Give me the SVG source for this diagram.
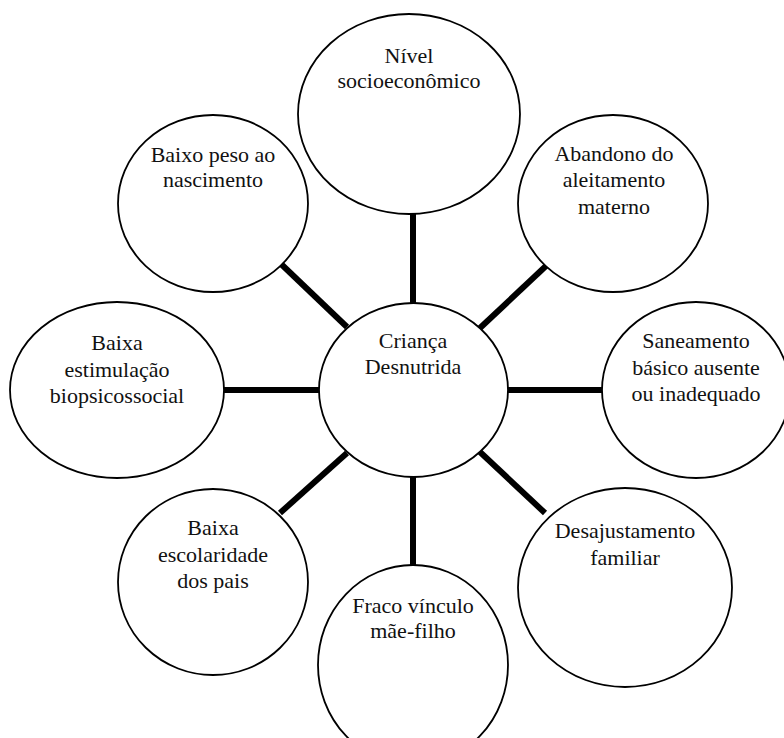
<svg xmlns="http://www.w3.org/2000/svg" width="784" height="738" viewBox="0 0 784 738">
<style>
.n{fill:#fff;stroke:#000;stroke-width:1.8}
.t{font-family:"Liberation Serif","Times New Roman",serif;font-size:22px;fill:#111;text-anchor:middle}
.c{stroke:#000;stroke-width:6;fill:none}
</style>
<rect width="784" height="738" fill="#fff"/>
<g id="connectors">
<line class="c" x1="413" y1="214" x2="413" y2="303"/>
<line class="c" x1="413" y1="477" x2="413" y2="565"/>
<line class="c" x1="224" y1="390" x2="319" y2="390"/>
<line class="c" x1="508" y1="390" x2="602" y2="390"/>
<line class="c" x1="280" y1="263" x2="347" y2="327"/>
<line class="c" x1="547" y1="265" x2="480" y2="328"/>
<line class="c" x1="280" y1="513" x2="347" y2="453"/>
<line class="c" x1="480" y1="452" x2="545" y2="513"/>
</g>
<g id="center">
<ellipse class="n" cx="413.5" cy="390" rx="94.5" ry="87"/>
<text class="t" x="413" y="348">Criança</text>
<text class="t" x="413" y="374">Desnutrida</text>
</g>
<g id="nivel">
<ellipse class="n" cx="409" cy="114" rx="111" ry="100"/>
<text class="t" x="409" y="63">Nível</text>
<text class="t" x="409" y="88">socioeconômico</text>
</g>
<g id="abandono">
<ellipse class="n" cx="613" cy="203.5" rx="95" ry="88.5"/>
<text class="t" x="614" y="161">Abandono do</text>
<text class="t" x="614" y="187">aleitamento</text>
<text class="t" x="614" y="214">materno</text>
</g>
<g id="saneamento">
<ellipse class="n" cx="696" cy="390" rx="94" ry="88"/>
<text class="t" x="696" y="348">Saneamento</text>
<text class="t" x="696" y="375">básico ausente</text>
<text class="t" x="696" y="401">ou inadequado</text>
</g>
<g id="desajustamento">
<ellipse class="n" cx="625" cy="587.5" rx="107" ry="99.5"/>
<text class="t" x="625" y="538">Desajustamento</text>
<text class="t" x="625" y="565">familiar</text>
</g>
<g id="fraco">
<ellipse class="n" cx="413" cy="665" rx="95" ry="100"/>
<text class="t" x="413" y="613">Fraco vínculo</text>
<text class="t" x="413" y="638">mãe-filho</text>
</g>
<g id="escolaridade">
<ellipse class="n" cx="213" cy="582" rx="95" ry="93"/>
<text class="t" x="213" y="535">Baixa</text>
<text class="t" x="213" y="562">escolaridade</text>
<text class="t" x="213" y="588">dos pais</text>
</g>
<g id="estimulacao">
<ellipse class="n" cx="117" cy="390" rx="107" ry="88"/>
<text class="t" x="117" y="350">Baixa</text>
<text class="t" x="117" y="377">estimulação</text>
<text class="t" x="117" y="403">biopsicossocial</text>
</g>
<g id="baixopeso">
<ellipse class="n" cx="213" cy="203.5" rx="95" ry="88.5"/>
<text class="t" x="213" y="162">Baixo peso ao</text>
<text class="t" x="213" y="187">nascimento</text>
</g>
</svg>
